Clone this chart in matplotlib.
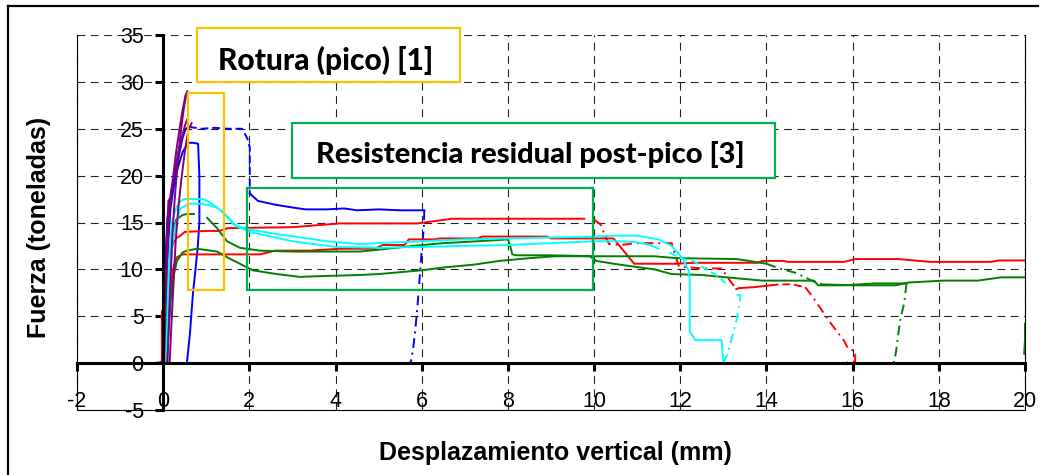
import numpy as np
import matplotlib
matplotlib.use('Agg')
import matplotlib.pyplot as plt
from matplotlib.patches import Rectangle
from matplotlib.lines import Line2D
from matplotlib.transforms import Bbox, TransformedBbox

plt.rcParams['font.family'] = ['Liberation Sans', 'DejaVu Sans']

# ---- digitised curves (x = mm, y = toneladas) ----
# purple: first loading branches
purple_1_x = [-0.22, -0.05, 0.0, 0.03, 0.06, 0.09, 0.12, 0.16, 0.22, 0.3, 0.38, 0.45, 0.52, 0.56]
purple_1_y = [0.0, 0.1, 0.5, 4, 9, 14, 17.3, 17.6, 19.5, 22.5, 25, 27, 28.6, 29.0]
purple_2_x = [0.1, 0.13, 0.17, 0.21, 0.26, 0.31, 0.37, 0.43, 0.49, 0.53]
purple_2_y = [0, 4, 9, 13.5, 17, 20, 23, 25.5, 27.5, 28.5]
purple_3_x = [0.15, 0.19, 0.24, 0.29, 0.35, 0.42, 0.5, 0.58, 0.66]
purple_3_y = [0, 4, 8.5, 13, 16.5, 19.5, 22.5, 24.8, 25.6]
purple_4_x = [0.02, 0.05, 0.09, 0.14, 0.2, 0.27, 0.35, 0.43, 0.5, 0.56]
purple_4_y = [0, 5, 11, 16, 18.5, 20.5, 22.5, 24, 25.3, 26.0]

# blue
blue_rise_x = [0.0, 0.03, 0.06, 0.1, 0.15, 0.22, 0.3, 0.38, 0.45, 0.52, 0.6]
blue_rise_y = [0, 6, 12, 15.5, 17.2, 18.5, 20.5, 22.5, 24, 25, 25.2]
blue_peak_x = [0.6, 0.9, 1.2, 1.5, 1.83, 1.95, 2.01, 2.01]
blue_peak_y = [25.2, 25.0, 25.1, 25.0, 25.0, 24.0, 23.0, 18.1]
blue_res_x = [2.01, 2.2, 2.6, 3.0, 3.3, 3.8, 4.2, 4.5, 5.0, 5.5, 6.06]
blue_res_y = [18.1, 17.3, 16.9, 16.6, 16.4, 16.4, 16.5, 16.3, 16.4, 16.3, 16.3]
blue_unl_x = [6.06, 6.05, 6.0, 5.95, 5.9, 5.85, 5.8, 5.75, 5.72]
blue_unl_y = [16.3, 14.5, 12, 9, 6, 3.5, 1.5, 0.2, 0]
blue_2_x = [0.05, 0.08, 0.12, 0.17, 0.25, 0.35, 0.45, 0.58, 0.7, 0.81, 0.84, 0.84, 0.8, 0.75, 0.69, 0.62, 0.55]
blue_2_y = [0, 7, 13, 16.5, 19, 21, 22.5, 23.5, 23.5, 23.4, 20, 15, 12.3, 10, 7.4, 3.1, 0]

# red
red_1_x = [-0.03, -0.03, 0.02, 0.08, 0.14, 0.2, 0.3, 0.4, 0.5, 1.0, 1.3, 1.5, 3.0, 4.1, 5.9, 6.7, 8.0, 9.0, 9.77]
red_1_y = [0, 5.5, 6, 8, 10.5, 12.5, 13.3, 13.6, 14.0, 14.1, 14.1, 14.4, 14.5, 14.9, 14.9, 15.4, 15.4, 15.4, 15.4]
red_1b_x = [10.0, 10.15, 10.27, 10.35, 10.6, 11.0, 11.8, 11.85, 11.97, 12.5, 12.96, 13.12, 13.3]
red_1b_y = [15.3, 14.8, 13.4, 12.7, 12.6, 12.8, 12.8, 12.0, 10.3, 10.1, 10.1, 9.0, 7.9]
red_1c_x = [13.3, 13.36, 13.7, 14.1]
red_1c_y = [7.9, 8.0, 8.1, 8.3]
red_1d_x = [14.1, 14.3, 14.6, 14.9]
red_1d_y = [8.3, 8.4, 8.4, 8.1]
red_1e_x = [14.9, 15.05, 15.5, 15.8, 15.9, 16.06, 16.06, 15.8]
red_1e_y = [8.1, 7.2, 4.2, 2.4, 1.5, 1.3, 0.2, 0]
red_2_x = [0.0, 0.05, 0.1, 0.15, 0.2, 0.25, 0.32, 0.45, 1.0, 2.25, 2.6, 3.4, 4.1, 4.9, 5.1, 5.6, 5.7,
           6.3, 6.4, 7.3, 7.4, 8.9, 9.0, 9.8, 10.45, 10.93, 11.9, 12.3, 13.8, 13.9, 14.4, 14.5, 15.8,
           16.06, 17.06, 17.8, 19.2, 19.4, 20.0]
red_2_y = [0, 2, 4, 7, 9, 10.5, 11.3, 11.6, 11.6, 11.6, 12.0, 12.0, 12.2, 12.2, 12.6, 12.6, 13.2,
           13.2, 13.3, 13.3, 13.5, 13.5, 13.3, 13.3, 13.3, 10.6, 10.6, 10.7, 10.7, 10.9, 10.9, 10.8, 10.8,
           11.1, 11.1, 10.8, 10.8, 10.95, 10.95]

# green
green_a_x = [0.05, 0.1, 0.15, 0.2, 0.25, 0.3, 0.45, 0.55]
green_a_y = [0, 4, 8, 12, 14, 15.3, 15.8, 15.9]
green_ad_x = [0.55, 0.86]
green_ad_y = [15.9, 15.9]
green_ab_x = [1.02, 1.25, 1.48, 1.78, 2.25, 3.0, 4.56, 5.0, 5.8, 6.5, 7.7, 8.0, 8.05, 8.1, 8.2,
              9.0, 10.0, 11.4, 11.9, 13.3, 13.6, 14.0]
green_ab_y = [15.5, 14.4, 13.0, 12.3, 12.0, 11.9, 11.9, 12.1, 12.5, 12.8, 13.1, 13.2, 12.6, 11.6, 11.5,
              11.5, 11.4, 11.4, 11.2, 11.1, 10.9, 10.6]
green_ac_x = [14.0, 14.3, 14.7, 15.05, 15.3]
green_ac_y = [10.6, 10.1, 9.6, 8.8, 8.4]
green_ae_x = [15.3, 16.0, 17.0, 17.3, 18.1, 18.9, 19.45, 20.0]
green_ae_y = [8.4, 8.3, 8.3, 8.6, 8.8, 8.8, 9.15, 9.15]
green_b_x = [0.08, 0.12, 0.18, 0.25, 0.32, 0.45, 0.55, 0.79, 1.25, 1.48, 1.78, 2.08, 2.64, 3.17, 3.8,
             4.56, 5.0, 5.5, 6.0, 6.5, 7.2, 7.8, 8.5, 9.1, 9.9, 10.05, 10.6, 11.4, 11.8, 12.5, 13.2,
             13.9, 15.1, 15.2, 15.8, 16.5, 17.25]
green_b_y = [0, 3, 7, 9.5, 10.9, 11.8, 12.0, 12.2, 11.9, 11.3, 10.6, 9.9, 9.5, 9.2, 9.3,
             9.4, 9.5, 9.7, 9.9, 10.2, 10.5, 10.9, 11.2, 11.4, 11.4, 10.9, 10.5, 10.0, 9.5, 9.4, 9.1,
             8.8, 8.8, 8.3, 8.3, 8.5, 8.5]
green_bu_x = [17.25, 17.2, 17.1, 17.0, 16.95]
green_bu_y = [8.5, 6.5, 4.5, 1.0, 0]
green_c_x = [19.98, 20.0, 20.0]
green_c_y = [1.0, 2.5, 4.2]

# cyan
cyan_1_x = [0.02, 0.05, 0.1, 0.15, 0.2, 0.3, 0.4, 0.5, 0.7, 0.93, 1.1, 1.3, 1.5, 1.63, 1.94, 2.6, 3.8,
            4.56, 5.0, 6.0, 7.0, 8.0, 9.0, 10.0, 10.5, 11.0, 11.5, 11.8, 12.05, 12.2, 12.22, 12.22,
            12.35, 12.96, 13.0]
cyan_1_y = [0, 4, 8, 12, 15, 16.5, 17.3, 17.5, 17.5, 17.5, 17.1, 16.4, 15.5, 14.8, 14.3, 13.8, 13.0,
            12.7, 12.8, 13.0, 13.2, 13.3, 13.4, 13.5, 13.6, 13.6, 13.2, 12.5, 11.2, 9.8, 8.8, 3.4,
            2.45, 2.45, 0]
cyan_1u_x = [13.0, 13.1, 13.3, 13.4, 13.2]
cyan_1u_y = [0, 1.0, 4.5, 7.2, 7.4]
cyan_2_x = [0.05, 0.1, 0.15, 0.25, 0.4, 0.6, 0.9, 1.1]
cyan_2_y = [0, 5, 10, 14, 16.5, 17.0, 17.0, 16.8]
cyan_2d_x = [1.1, 1.3, 1.5]
cyan_2d_y = [16.8, 16.5, 15.6]
cyan_2b_x = [1.5, 1.7, 2.0, 3.0, 4.0, 5.0, 6.0, 7.0, 8.0, 9.0, 10.0, 10.5, 11.0, 11.3, 11.5]
cyan_2b_y = [15.6, 14.6, 14.0, 13.0, 12.4, 12.3, 12.4, 12.5, 12.6, 12.8, 13.0, 13.0, 12.9, 12.6, 12.2]
cyan_2c_x = [11.75, 12.05, 12.3, 12.6, 12.9, 13.05]
cyan_2c_y = [11.8, 11.1, 10.9, 10.0, 9.2, 8.5]

x_ticks = np.arange(-2, 21, 2)
y_ticks = np.arange(-5, 36, 5)

PURPLE, BLUE, RED, GREEN, CYAN = '#800080', '#0000FF', '#FF0000', '#008000', '#00FFFF'
solid = '-'
dashed = (0, (4, 2))
dashdot = (0, (5, 2.5, 1, 2.5))

fig = plt.figure(figsize=(10.43, 4.75), dpi=100)
ax = fig.add_axes([77/1043, 65/475, 948/1043, 375/475])
ax.set_xlim(-2, 20)
ax.set_ylim(-5, 35)

lw = 1.4
curves = [
    (blue_rise_x, blue_rise_y, BLUE, solid), (blue_peak_x, blue_peak_y, BLUE, dashed),
    (blue_res_x, blue_res_y, BLUE, solid), (blue_unl_x, blue_unl_y, BLUE, dashdot),
    (blue_2_x, blue_2_y, BLUE, solid),
    (red_1_x, red_1_y, RED, solid), (red_1b_x, red_1b_y, RED, dashdot),
    (red_1c_x, red_1c_y, RED, solid), (red_1d_x, red_1d_y, RED, dashed),
    (red_1e_x, red_1e_y, RED, dashdot), (red_2_x, red_2_y, RED, solid),
    (green_a_x, green_a_y, GREEN, solid), (green_ad_x, green_ad_y, GREEN, dashed),
    (green_ab_x, green_ab_y, GREEN, solid), (green_ac_x, green_ac_y, GREEN, dashdot),
    (green_ae_x, green_ae_y, GREEN, solid), (green_b_x, green_b_y, GREEN, solid),
    (green_bu_x, green_bu_y, GREEN, dashdot), (green_c_x, green_c_y, GREEN, solid),
    (cyan_1_x, cyan_1_y, CYAN, solid), (cyan_1u_x, cyan_1u_y, CYAN, dashdot),
    (cyan_2_x, cyan_2_y, CYAN, solid), (cyan_2d_x, cyan_2d_y, CYAN, dashed),
    (cyan_2b_x, cyan_2b_y, CYAN, solid), (cyan_2c_x, cyan_2c_y, CYAN, dashed),
    (purple_1_x, purple_1_y, PURPLE, solid), (purple_2_x, purple_2_y, PURPLE, solid),
    (purple_3_x, purple_3_y, PURPLE, solid), (purple_4_x, purple_4_y, PURPLE, solid),
]
for cx, cy, col, ls in curves:
    ax.plot(cx, cy, color=col, ls=ls, lw=lw, zorder=3)

# grid + axes through origin
ax.set_xticks(x_ticks)
ax.set_yticks(y_ticks)
ax.grid(True, color='#222222', lw=0.8, ls=(0, (7, 5)), zorder=1)
ax.set_axisbelow(True)
for s in ['top', 'right']:
    ax.spines[s].set_visible(False)
ax.spines['left'].set_position(('data', 0))
ax.spines['bottom'].set_position(('data', 0))
ax.spines['left'].set_linewidth(2.2)
ax.spines['bottom'].set_linewidth(2.2)
ax.spines['left'].set_zorder(4)
ax.spines['bottom'].set_zorder(4)
ax.tick_params(axis='x', direction='out', length=6, width=2.2, pad=14, labelsize=15.5)
ax.tick_params(axis='y', direction='out', length=6, width=2.2, pad=8, labelsize=15.5)
ax.set_xticklabels([str(v) for v in x_ticks])
ax.set_yticklabels([str(v) for v in y_ticks])

# plot-area frame (left, bottom, right)
ax.plot([0, 0, 1, 1], [1, 0, 0, 1], transform=ax.transAxes, color='black', lw=0.8, clip_on=False, zorder=2)

# annotation boxes
ax.add_patch(Rectangle((0.569, 7.79), 1.411 - 0.569, 28.77 - 7.79, fill=False, ec='#FFC000', lw=1.6, zorder=5))
ax.add_patch(Rectangle((1.952, 7.79), 9.981 - 1.952, 18.63 - 7.79, fill=False, ec='#00B050', lw=1.6, zorder=5))
ax.add_patch(Rectangle((0.777, 30.01), 6.888 - 0.777, 35.70 - 30.01, fc='white', ec='#FFC000', lw=1.6,
                       zorder=5, clip_on=False))
ax.add_patch(Rectangle((2.982, 19.70), 14.194 - 2.982, 25.57 - 19.70, fc='white', ec='#00B050', lw=1.6,
                       zorder=5, clip_on=False))

t1 = ax.text((1.272 + 6.26) / 2, 31.25, 'Rotura (pico) [1]', ha='center', va='baseline',
             family='Lato', weight='black', fontsize=21.5, zorder=6)
t1.set_clip_box(TransformedBbox(Bbox([[0.8, 30.93], [6.85, 35.6]]), ax.transData))
t2 = ax.text((3.477 + 13.57) / 2, 21.30, 'Resistencia residual post-pico [3]', ha='center', va='baseline',
             family='Lato', weight='black', fontsize=21, zorder=6)
t2.set_clip_box(TransformedBbox(Bbox([[3.0, 21.12], [14.1, 25.5]]), ax.transData))

fig.text(555/1043, 1 - 460/475, 'Desplazamiento vertical (mm)', ha='center', va='baseline',
         fontsize=18, weight='bold')
fig.text(39/1043, 1 - 227/475, 'Fuerza (toneladas)', ha='center', va='center', rotation=90,
         fontsize=18, weight='bold')

# outer chart border (top and left visible)
fig.add_artist(Line2D([8/1043, 1038/1043], [1 - 6/475, 1 - 6/475], color='black', lw=1.6))
fig.add_artist(Line2D([8/1043, 8/1043], [1 - 6/475, 0], color='black', lw=1.6))

fig.savefig('out.png', dpi=100)
